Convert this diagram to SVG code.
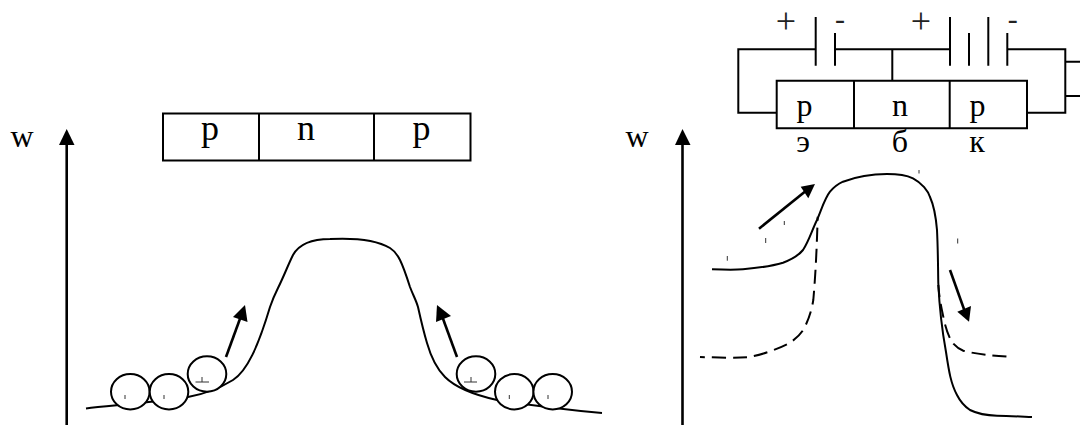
<svg xmlns="http://www.w3.org/2000/svg" width="1080" height="425" viewBox="0 0 1080 425">
<style>
.l{fill:none;stroke:#000;stroke-width:2}
.d{fill:none;stroke:#000;stroke-width:2;stroke-dasharray:14 7}
.a{fill:none;stroke:#000;stroke-width:2.6}
.h{fill:#000;stroke:none}
.c{fill:#fff;stroke:#000;stroke-width:2}
.t{fill:none;stroke:#333;stroke-width:1}
text{font-family:"Liberation Serif","Times New Roman",serif;fill:#000;text-anchor:middle}
.b{font-size:36px}.s{font-size:32px}.w{font-size:32px}.m{font-size:32px}.p{font-size:36px;fill:#222}.n{font-size:30px;fill:#222}
</style>
<rect width="1080" height="425" fill="#fff"/>
<g id="connectors">
<path class="a" d="M66.7 425V142"/><path class="h" d="M66.7 129L74.5 145H59Z"/>
<path class="a" d="M682.5 425V142"/><path class="h" d="M682.5 129L690.5 145H675Z"/>
<path class="l" d="M86 408.5C110 405.5 150 403 188 397C205 394 220 388 233 380C247 371 258 347 270 307C273 298 276 292 278 288C284 276 288 265 293 255C298 246 310 239 330 239C350 238 375 239 390 248C398 253 402 262 410 287C413 295 416 300 418 307C422 325 424 333 427 343C431 357 437 369 445 377C455 387 470 394 497 400C530 405 570 410 602 413"/>
<path class="a" d="M226 357L241 316"/><path class="h" d="M245 305L247.5 322L233 317Z"/>
<path class="a" d="M457 357L442 316"/><path class="h" d="M437 305L436 322L451 316Z"/>
<path class="l" d="M712 269.3C725 269.8 735 270 743 269.3C758 268 772 266 783 262.7C793 259 798 256 803 250C809 241 812 230 817 220C822 208 825 198 830 191.7C834 187 838 184 843 181.7C858 176 872 174 887 174C898 174 906 175 913 178.3C922 183 928 191 930 197C935 208 936 218 937 230C938 250 938 268 938.3 283C939.5 310 942 330 946 352C949 372 951 384 957 395C960 401 964 406 970 410C978 414 988 415.5 997 415.7C1010 416 1020 416.5 1032 417"/>
<path class="d" stroke-dashoffset="9" d="M700 357C715 357.5 732 358 747 357.3C762 355 778 349 790 342.7C797 338 802 333 805 326.7C810 316 812 308 813.3 300C816 270 817 240 817.7 216.7"/>
<path class="d" stroke-dashoffset="2" d="M938.3 285C939 296 941 306 943.3 316.7C945 326 948 335 951.7 341.7C955 346 959 349 963.3 350.7C975 354 992 355.5 1008.3 356.7"/>
<path class="a" d="M759 228.7L807 190"/><path class="h" d="M815 184L808.3 198.3L800.7 186.7Z"/>
<path class="a" d="M950 270L965 312"/><path class="h" d="M969 321.7L957.3 311.7L971 306Z"/>
<path class="l" d="M815.7 49.3H738.3V112.7H776.7M835 49.3H950M892.3 49.3V80.7M1007.3 49.3H1065.3V112.7H1027M1065.3 61.7H1080M1065.3 96H1080"/>
<path class="l" d="M815.7 17V65.7M835 33V65.7M950 17V65.7M969 33V65.7M988.3 17V65.7M1007.3 33V65.7"/>
</g>
<g id="box-left">
<path class="l" d="M163 113.5H470.5V160.5H163ZM259 113.5V160.5M374 113.5V160.5"/>
<text class="b" x="210" y="140">p</text><text class="b" x="306" y="140">n</text><text class="b" x="421.5" y="140">p</text>
</g>
<g id="box-right">
<path class="l" d="M776.7 80.7H1027V128.3H776.7ZM854 80.7V128.3M949.7 80.7V128.3"/>
<text class="s" x="804.5" y="116">p</text><text class="s" x="900" y="116">n</text><text class="s" x="977.5" y="116">p</text>
<text class="m" x="803" y="151.5">э</text><text class="m" x="900" y="151.5">б</text><text class="m" x="977" y="151.5">к</text>
</g>
<g id="w-left"><text class="w" x="22" y="147">w</text></g>
<g id="w-right"><text class="w" x="637" y="147">w</text></g>
<g id="polarity">
<text class="p" x="786" y="33">+</text><text class="n" x="840" y="29">-</text><text class="p" x="921" y="33">+</text><text class="n" x="1012.7" y="29">-</text>
</g>
<g id="balls-left">
<ellipse class="c" cx="130.3" cy="391.7" rx="19.3" ry="17.7"/><ellipse class="c" cx="169" cy="391.7" rx="19.3" ry="17.7"/><ellipse class="c" cx="207" cy="374" rx="19.3" ry="17.7"/>
<path class="t" d="M125 395V399M164 395V399M202 377V382M195.5 382H209"/>
</g>
<g id="balls-right">
<ellipse class="c" cx="476" cy="374" rx="19.3" ry="17.7"/><ellipse class="c" cx="514.3" cy="391.7" rx="19.3" ry="17.7"/><ellipse class="c" cx="552.7" cy="391.7" rx="19.3" ry="17.7"/>
<path class="t" d="M509.3 395V399M548 395V399M471 377V382M464 382H477"/>
</g>
<g id="ticks"><path class="t" d="M727.3 256V260.7M765.7 238V243M784.3 221V225M919 170V173.5M957.7 238.5V243.5"/></g>
</svg>
